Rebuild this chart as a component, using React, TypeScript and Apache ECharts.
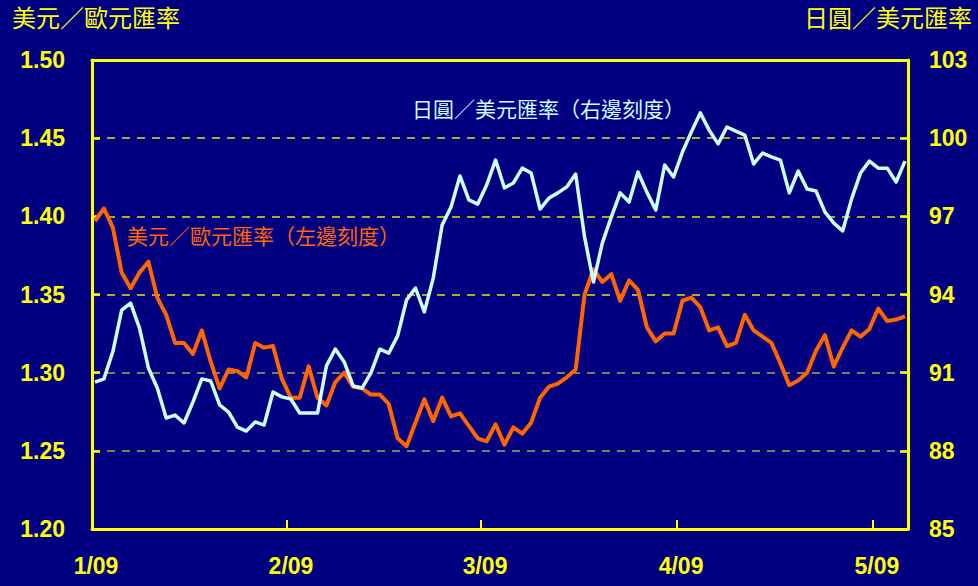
import React, { useEffect, useRef } from "react";
import * as echarts from "echarts";

// 美元／歐元匯率 (left scale), daily
const usdEur = [
  1.397, 1.405, 1.393, 1.364, 1.354, 1.364, 1.371, 1.348, 1.337, 1.319,
  1.319, 1.312, 1.327, 1.307, 1.29, 1.302, 1.301, 1.297, 1.319, 1.316,
  1.317, 1.296, 1.284, 1.284, 1.304, 1.284, 1.279, 1.294, 1.3, 1.291,
  1.29, 1.286, 1.286, 1.28, 1.258, 1.253, 1.268, 1.283, 1.269, 1.284,
  1.272, 1.274, 1.266, 1.258, 1.256, 1.267, 1.254, 1.265, 1.261, 1.268,
  1.284, 1.291, 1.293, 1.297, 1.302, 1.35, 1.366, 1.358, 1.363, 1.346,
  1.359, 1.353, 1.329, 1.32, 1.325, 1.325, 1.346, 1.348, 1.342, 1.327,
  1.329, 1.317, 1.319, 1.337, 1.327, 1.323, 1.319, 1.306, 1.292, 1.295,
  1.3, 1.314, 1.324, 1.304, 1.316, 1.327, 1.323, 1.328, 1.341, 1.333,
  1.334, 1.336,
];

// 日圓／美元匯率 (right scale), daily
const jpyUsd = [
  90.64, 90.76, 91.8, 93.4, 93.67, 92.71, 91.18, 90.41, 89.26, 89.37,
  89.07, 89.87, 90.76, 90.68, 89.76, 89.49, 88.91, 88.76, 89.11, 88.99,
  90.26, 90.07, 89.99, 89.45, 89.45, 89.45, 91.26, 91.91, 91.41, 90.49,
  90.41, 90.99, 91.9, 91.75, 92.41, 93.79, 94.25, 93.33, 94.63, 96.67,
  97.36, 98.55, 97.63, 97.47, 98.2, 99.16, 98.09, 98.28, 98.85, 98.66,
  97.28, 97.7, 97.9, 98.13, 98.62, 96.21, 94.48, 95.98, 96.97, 97.9,
  97.55, 98.7, 97.93, 97.24, 98.97, 98.51, 99.47, 100.24, 100.97, 100.31,
  99.78, 100.43, 100.27, 100.12, 99.01, 99.43, 99.28, 99.16, 97.9, 98.74,
  98.05, 97.97, 97.17, 96.74, 96.44, 97.67, 98.66, 99.12, 98.85, 98.85,
  98.32, 99.12,
];

const monthLabels = ["1/09", "2/09", "3/09", "4/09", "5/09"];
const monthTickPos = [-0.337, 21.57, 43.37, 65.39, 87.4];
const rightTicks = [85, 88, 91, 94, 97, 100, 103];

const YELLOW = "#ffff00";
const BG = "#000080";
const ORANGE = "#ff6600";
const CYAN = "#ccffff";
const NUM_FONT = "'Liberation Sans', Arial, sans-serif";
const CJK_FONT = "'Liberation Sans', 'Noto Sans CJK TC', sans-serif";

export default function App() {
  const ref = useRef<HTMLDivElement>(null);

  useEffect(() => {
    if (!ref.current) return;
    const chart = echarts.init(ref.current, null, { renderer: "svg" });
    const idx = usdEur.map((_, i) => i);

    const labelStyle = {
      color: YELLOW,
      fontFamily: NUM_FONT,
      fontWeight: "bold" as const,
      fontSize: 23,
    };
    const axisLine = { show: true, onZero: false, lineStyle: { color: YELLOW, width: 3 } };

    chart.setOption({
      animation: false,
      backgroundColor: BG,
      grid: {
        left: 92,
        right: 70,
        top: 60,
        bottom: 57,
        show: false,
        containLabel: false,
        outerBoundsMode: "none",
      },
      xAxis: [
        {
          type: "value",
          position: "bottom",
          min: -0.337,
          max: 91.337,
          axisLine,
          axisTick: {
            show: true,
            inside: true,
            length: 9,
            lineStyle: { color: YELLOW, width: 2 },
            customValues: monthTickPos,
          },
          axisLabel: {
            ...labelStyle,
            margin: 25,
            padding: [0, 0, 0, 8],
            customValues: monthTickPos,
            formatter: (v: number) => {
              let best = 0;
              monthTickPos.forEach((p, i) => {
                if (Math.abs(p - v) < Math.abs(monthTickPos[best] - v)) best = i;
              });
              return monthLabels[best];
            },
          },
          splitLine: { show: false },
        },
        {
          type: "value",
          position: "top",
          min: -0.337,
          max: 91.337,
          axisLine,
          axisTick: { show: false },
          axisLabel: { show: false },
          splitLine: { show: false },
        },
      ],
      yAxis: [
        {
          type: "value",
          position: "left",
          min: 1.2,
          max: 1.5,
          interval: 0.05,
          axisLine,
          axisTick: {
            show: true,
            inside: true,
            length: 8,
            lineStyle: { color: YELLOW, width: 2.5 },
          },
          axisLabel: {
            ...labelStyle,
            margin: 27,
            formatter: (v: number) => v.toFixed(2),
          },
          splitLine: {
            show: true,
            lineStyle: {
              color: [YELLOW, "#a8a850", "#a8a850", "#e6e600", "#e6e600", "#e6e600", YELLOW],
              width: 1.5,
              type: [8, 7],
            },
          },
        },
        {
          type: "value",
          position: "right",
          min: 85,
          max: 103,
          axisLine,
          axisTick: {
            show: true,
            inside: true,
            length: 8,
            lineStyle: { color: YELLOW, width: 2.5 },
            customValues: rightTicks,
          },
          axisLabel: {
            ...labelStyle,
            margin: 21,
            customValues: rightTicks,
            formatter: (v: number) => String(Math.round(v)),
          },
          splitLine: { show: false },
        },
      ],
      series: [
        {
          name: "美元／歐元匯率",
          type: "line",
          xAxisIndex: 0,
          yAxisIndex: 0,
          data: usdEur.map((v, i) => [idx[i], v]),
          showSymbol: false,
          symbol: "none",
          lineStyle: { color: ORANGE, width: 4, join: "round" },
          z: 3,
        },
        {
          name: "日圓／美元匯率",
          type: "line",
          xAxisIndex: 0,
          yAxisIndex: 1,
          data: jpyUsd.map((v, i) => [idx[i], v]),
          showSymbol: false,
          symbol: "none",
          lineStyle: { color: CYAN, width: 3.5, join: "round" },
          z: 4,
        },
      ],
      graphic: [
        {
          type: "text",
          left: 12,
          top: 6,
          style: {
            text: "美元／歐元匯率",
            fill: YELLOW,
            font: `24px ${CJK_FONT}`,
          },
        },
        {
          type: "text",
          right: 6,
          top: 6,
          style: {
            text: "日圓／美元匯率",
            fill: YELLOW,
            font: `24px ${CJK_FONT}`,
          },
        },
        {
          type: "text",
          left: 412,
          top: 99,
          style: {
            text: "日圓／美元匯率（右邊刻度）",
            fill: CYAN,
            font: `21px ${CJK_FONT}`,
          },
          z: 10,
        },
        {
          type: "text",
          left: 127,
          top: 226,
          style: {
            text: "美元／歐元匯率（左邊刻度）",
            fill: ORANGE,
            font: `21px ${CJK_FONT}`,
          },
          z: 10,
        },
      ],
    });

    return () => chart.dispose();
  }, []);

  return (
    <div
      ref={ref}
      style={{ position: "absolute", left: 0, top: 0, width: 978, height: 586 }}
    />
  );
}
